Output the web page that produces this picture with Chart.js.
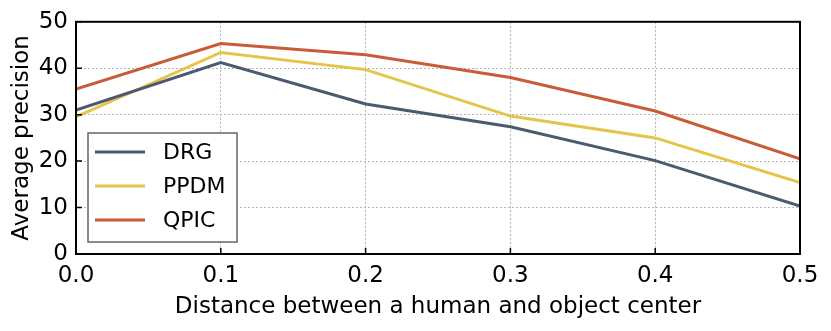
<!DOCTYPE html>
<html>
<head>
<meta charset="utf-8">
<script src="https://cdn.jsdelivr.net/npm/chart.js@4.4.1/dist/chart.umd.min.js"></script>
<style>
  html, body { margin: 0; padding: 0; background: #ffffff; }
  #wrap { width: 831px; height: 331px; }
</style>
</head>
<body>
<div id="wrap"><canvas id="apChart" width="831" height="331"></canvas></div>
<script>
// Average precision vs. distance between human and object center
var distances = [0.0, 0.1, 0.2, 0.3, 0.4, 0.5];
var drgValues = [31.0, 41.2, 32.3, 27.4, 20.1, 10.3];
var ppdmValues = [29.5, 43.4, 39.7, 29.7, 25.0, 15.4];
var qpicValues = [35.5, 45.3, 42.9, 38.0, 30.8, 20.5];
var yTicks = [0, 10, 20, 30, 40, 50];
var xTicks = [0.0, 0.1, 0.2, 0.3, 0.4, 0.5];

var FONT = "DejaVu Sans";

function toPoints(values) {
    return values.map(function (v, i) {
        return { x: distances[i], y: v };
    });
}

// frame, inward ticks and legend box inside the plot
var framePlugin = {
    id: "frame",
    afterDatasetsDraw: function (chart) {
        var ctx = chart.ctx;
        var area = chart.chartArea;
        var xs = chart.scales.x;
        var ys = chart.scales.y;

        ctx.save();
        ctx.strokeStyle = "#000000";
        ctx.lineWidth = 2;
        ctx.strokeRect(area.left, area.top, area.right - area.left, area.bottom - area.top);

        ctx.lineWidth = 1.5;
        ctx.beginPath();
        xTicks.forEach(function (t) {
            var px = xs.getPixelForValue(t);
            ctx.moveTo(px, area.bottom);
            ctx.lineTo(px, area.bottom - 6);
        });
        yTicks.forEach(function (t) {
            var py = ys.getPixelForValue(t);
            ctx.moveTo(area.left, py);
            ctx.lineTo(area.left + 6, py);
        });
        ctx.stroke();

        // legend
        var bx = 88, by = 133, bw = 149, bh = 109;
        ctx.fillStyle = "#ffffff";
        ctx.fillRect(bx, by, bw, bh);
        ctx.strokeStyle = "#666666";
        ctx.lineWidth = 1.5;
        ctx.strokeRect(bx, by, bw, bh);

        var rows = [152, 186, 220];
        ctx.font = "22px '" + FONT + "'";
        ctx.textBaseline = "middle";
        ctx.textAlign = "left";
        chart.data.datasets.forEach(function (ds, i) {
            ctx.strokeStyle = ds.borderColor;
            ctx.lineWidth = 3;
            ctx.beginPath();
            ctx.moveTo(95, rows[i]);
            ctx.lineTo(145, rows[i]);
            ctx.stroke();
            ctx.fillStyle = "#000000";
            ctx.fillText(ds.label, 163, rows[i] + 1);
        });
        ctx.restore();
    }
};

var ctx = document.getElementById("apChart").getContext("2d");

new Chart(ctx, {
    type: "line",
    data: {
        datasets: [
            {
                label: "DRG",
                data: toPoints(drgValues),
                borderColor: "#4b5a72",
                borderWidth: 3,
                pointRadius: 0,
                tension: 0,
                fill: false,
            },
            {
                label: "PPDM",
                data: toPoints(ppdmValues),
                borderColor: "#e6c44c",
                borderWidth: 3,
                pointRadius: 0,
                tension: 0,
                fill: false,
            },
            {
                label: "QPIC",
                data: toPoints(qpicValues),
                borderColor: "#c95b36",
                borderWidth: 3,
                pointRadius: 0,
                tension: 0,
                fill: false,
            },
        ],
    },
    options: {
        responsive: false,
        animation: false,
        devicePixelRatio: 1,
        layout: {
            padding: { left: 0, right: 31, top: 20, bottom: 10 },
        },
        plugins: {
            legend: { display: false },
            tooltip: { enabled: false },
        },
        scales: {
            x: {
                type: "linear",
                min: 0,
                max: 0.5,
                afterBuildTicks: function (scale) {
                    scale.ticks = xTicks.map(function (v) { return { value: v }; });
                },
                afterFit: function (scale) {
                    scale.height = 67;
                },
                ticks: {
                    color: "#000000",
                    padding: 8,
                    font: { family: FONT, size: 23 },
                    callback: function (value) {
                        return Number(value).toFixed(1);
                    },
                },
                grid: {
                    color: "#b5b5b5",
                    lineWidth: 1,
                    drawTicks: false,
                },
                border: { display: false, dash: [2, 2] },
                title: {
                    display: true,
                    text: "Distance between a human and object center",
                    color: "#000000",
                    font: { family: FONT, size: 23 },
                    padding: { top: 0, bottom: 0 },
                },
            },
            y: {
                min: 0,
                max: 50,
                afterBuildTicks: function (scale) {
                    scale.ticks = yTicks.map(function (v) { return { value: v }; });
                },
                afterFit: function (scale) {
                    scale.width = 76;
                },
                ticks: {
                    color: "#000000",
                    padding: 8,
                    font: { family: FONT, size: 23 },
                },
                grid: {
                    color: "#b5b5b5",
                    lineWidth: 1,
                    drawTicks: false,
                },
                border: { display: false, dash: [2, 2] },
                title: {
                    display: true,
                    text: "Average precision",
                    color: "#000000",
                    font: { family: FONT, size: 23 },
                    padding: { top: 8, bottom: 0 },
                },
            },
        },
    },
    plugins: [framePlugin],
});
</script>
</body>
</html>
